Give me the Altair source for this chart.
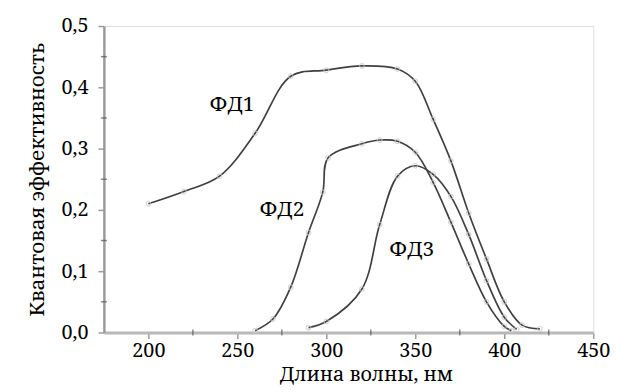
import altair as alt
import pandas as pd

# ---- data ----
fd1_x = [200, 220, 240, 260, 280, 300, 320, 340, 350, 360, 370, 380, 390, 400, 410, 420]
fd1_y = [0.21, 0.23, 0.255, 0.325, 0.418, 0.428, 0.435, 0.43, 0.41, 0.348, 0.28, 0.195, 0.12, 0.05, 0.012, 0.006]

fd2_x = [260, 270, 280, 290, 298, 301, 320, 330, 340, 350, 360, 370, 380, 390, 400, 404]
fd2_y = [0.003, 0.022, 0.074, 0.163, 0.229, 0.285, 0.308, 0.314, 0.312, 0.294, 0.245, 0.18, 0.112, 0.05, 0.01, 0.003]

fd3_x = [290, 300, 320, 330, 340, 350, 360, 370, 380, 390, 400, 407]
fd3_y = [0.008, 0.018, 0.071, 0.176, 0.255, 0.272, 0.258, 0.222, 0.16, 0.085, 0.025, 0.005]

series_names = ["ФД1", "ФД2", "ФД3"]
label_x = [247, 275, 348]
label_y = [0.371, 0.2, 0.134]

x_ticks = [200, 250, 300, 350, 400, 450]
x_minor = [225, 275, 325, 375, 425]
y_ticks = [0.0, 0.1, 0.2, 0.3, 0.4, 0.5]
y_minor = [0.05, 0.15, 0.25, 0.35, 0.45]

rows = []
for name, xs, ys in zip(series_names, [fd1_x, fd2_x, fd3_x], [fd1_y, fd2_y, fd3_y]):
    for a, b in zip(xs, ys):
        rows.append({"s": name, "x": a, "y": b})
df = pd.DataFrame(rows)
labels = pd.DataFrame({"s": series_names, "x": label_x, "y": label_y})
xmin = pd.DataFrame({"x": x_minor, "y": [0.0] * len(x_minor)})
ymin = pd.DataFrame({"x": [175] * len(y_minor), "y": y_minor})

FONT = "Noto Serif"

xscale = alt.Scale(domain=[175, 450], nice=False, zero=False)
yscale = alt.Scale(domain=[0, 0.5], nice=False)

xaxis = alt.Axis(values=x_ticks, title="Длина волны, нм", grid=False,
                 labelFont=FONT, labelFontSize=20, labelColor="black",
                 titleFont=FONT, titleFontSize=20, titleFontWeight="normal", titleColor="black",
                 domainColor="#b8b8b8", domainWidth=3, tickColor="#999999", tickSize=6,
                 tickWidth=1.5, labelPadding=2, titlePadding=5, labelFlush=False, titleX=265)
yaxis = alt.Axis(values=y_ticks, title="Квантовая эффективность", grid=False,
                 labelExpr="replace(format(datum.value, '.1f'), '.', ',')",
                 labelFont=FONT, labelFontSize=20, labelColor="black",
                 titleFont=FONT, titleFontSize=21, titleFontWeight="normal", titleColor="black",
                 domainColor="#9a9a9a", domainWidth=2.5, tickColor="#999999", tickSize=6,
                 tickWidth=1.5, labelPadding=10, titlePadding=14, labelFlush=False)

base = alt.Chart(df)
lines = base.mark_line(interpolate="catmull-rom", color="#404040", strokeWidth=1.7).encode(
    x=alt.X("x:Q", scale=xscale, axis=xaxis),
    y=alt.Y("y:Q", scale=yscale, axis=yaxis),
    detail="s:N",
)
points = base.mark_point(shape="circle", filled=False, size=22, color="#c8c8c8",
                         strokeWidth=1.2).encode(x="x:Q", y="y:Q")

text = alt.Chart(labels).mark_text(font=FONT, fontSize=21, color="black").encode(
    x="x:Q", y="y:Q", text="s:N")

xminor_ticks = alt.Chart(xmin).mark_tick(orient="vertical", size=6, thickness=1.5,
                                         color="#555555").encode(x="x:Q", y="y:Q")
yminor_ticks = alt.Chart(ymin).mark_tick(orient="horizontal", size=6, thickness=1.5,
                                         color="#555555").encode(x="x:Q", y="y:Q")

chart = alt.layer(lines, points, text, xminor_ticks, yminor_ticks).properties(
    width=495, height=310,
    autosize=alt.AutoSizeParams(type="none"),
    padding={"left": 97, "top": 16, "right": 20, "bottom": 60},
).configure_view(stroke=None).configure(background="white")

chart.save("out.html", embed_options={"renderer": "svg", "actions": False})
